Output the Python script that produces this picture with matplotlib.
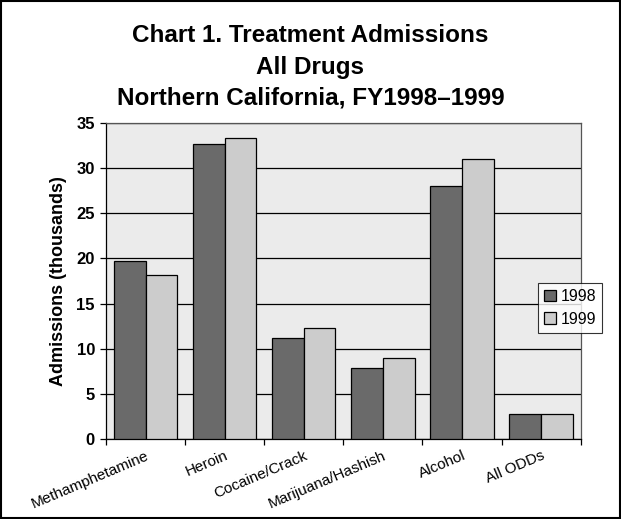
import matplotlib
matplotlib.use("Agg")
import matplotlib.pyplot as plt
import numpy as np
from matplotlib.patches import Rectangle
import matplotlib.transforms as mtransforms

categories = ["Methamphetamine", "Heroin", "Cocaine/Crack", "Marijuana/Hashish", "Alcohol", "All ODDs"]
values_1998 = [19.7, 32.7, 11.2, 7.85, 28.0, 2.75]
values_1999 = [18.2, 33.3, 12.3, 8.95, 31.0, 2.75]
series_labels = ["1998", "1999"]
yticks = [0, 5, 10, 15, 20, 25, 30, 35]

plt.rcParams['font.family'] = ['Liberation Sans', 'DejaVu Sans']

fig = plt.figure(figsize=(6.21, 5.19), dpi=100)
ax = fig.add_axes([0.1707, 0.154, 0.935 - 0.1707, 0.763 - 0.154])
ax.set_facecolor("#ebebeb")

x = np.arange(len(categories))
w = 0.4
ax.bar(x - w/2, values_1998, width=w, color="#6a6a6a", edgecolor="black", linewidth=0.9, label=series_labels[0], zorder=3)
ax.bar(x + w/2, values_1999, width=w, color="#cccccc", edgecolor="black", linewidth=0.9, label=series_labels[1], zorder=3)

ax.set_xlim(-0.5, len(categories) - 0.5)
ax.set_ylim(0, 35)
ax.set_yticks(yticks)
ax.set_yticklabels([str(t) for t in yticks], fontsize=12, fontweight='bold')
ax.yaxis.grid(True, color="black", linewidth=0.9, zorder=1)
ax.set_axisbelow(True)

ax.set_xticks(np.arange(len(categories) + 1) - 0.5)
ax.set_xticklabels([])
ax.set_xticks(x, minor=True)
ax.set_xticklabels(categories, minor=True, rotation=23, ha='right', va='top',
                   rotation_mode='anchor', fontsize=11)
shift = mtransforms.ScaledTranslation(-6/100, 0, fig.dpi_scale_trans)
for lbl in ax.get_xticklabels(minor=True):
    lbl.set_transform(lbl.get_transform() + shift)
ax.tick_params(axis='x', which='minor', length=0, pad=7)
ax.tick_params(axis='x', which='major', length=4, direction='out', width=0.9)
ax.tick_params(axis='y', length=4, direction='out', width=0.9, pad=4)

for s in ['left', 'bottom']:
    ax.spines[s].set_color("black")
    ax.spines[s].set_linewidth(0.9)
for s in ['top', 'right']:
    ax.spines[s].set_color("#555555")
    ax.spines[s].set_linewidth(0.9)

ax.set_ylabel("Admissions (thousands)", fontsize=13, fontweight='bold', labelpad=7)

leg = fig.legend(loc='upper left', bbox_to_anchor=(538/621, 1 - 283/519), fontsize=11.5,
                 frameon=True, fancybox=False, edgecolor="black", handlelength=0.7,
                 handleheight=0.7, handletextpad=0.3, borderpad=0.4, labelspacing=0.45,
                 borderaxespad=0)
leg.get_frame().set_linewidth(0.8)

fig.text(0.5, 1 - 35/519, "Chart 1. Treatment Admissions", ha='center', va='center', fontsize=17.5, fontweight='bold')
fig.text(0.5, 1 - 67/519, "All Drugs", ha='center', va='center', fontsize=17.5, fontweight='bold')
fig.text(0.5, 1 - 98/519, "Northern California, FY1998\u20131999", ha='center', va='center', fontsize=17.5, fontweight='bold')

fig.patches.append(Rectangle((0.002, 0.002), 0.996, 0.996, transform=fig.transFigure,
                             fill=False, edgecolor='black', linewidth=1.5))

fig.savefig("out.png", dpi=100)
